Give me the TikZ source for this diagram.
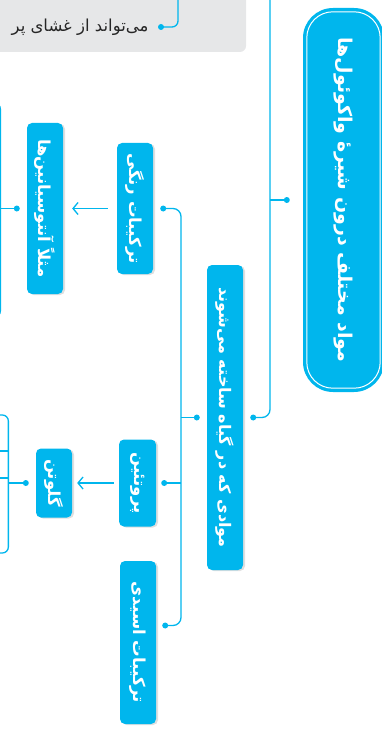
\documentclass[tikz,border=0pt]{standalone}
\usepackage{fontspec}
\usepackage{graphicx}
\usetikzlibrary{positioning, shadows, arrows.meta}
\TeXXeTstate=1
\newfontfamily\fafont[Script=Arabic]{DejaVu Sans}
\definecolor{mapblue}{RGB}{0,182,237}
\definecolor{notegray}{RGB}{230,231,232}
\newcommand{\vtext}[2]{\rotatebox{-90}{\fontsize{#1}{#1}\selectfont\fafont\bfseries #2}}

\begin{document}
\begin{tikzpicture}[x=1pt, y=-1pt,
    box/.style={fill=mapblue, rounded corners=5pt, text=white, inner sep=0pt,
                drop shadow={shadow xshift=2pt, shadow yshift=-1pt, opacity=0.25}},
    link/.style={mapblue, line width=1.3pt},
    arr/.style={link, -{Straight Barb[length=5pt, width=12pt]}}]
    \useasboundingbox (0,0) rectangle (382,730);
    \clip (0,0) rectangle (382,730);

    % note cut off at the top
    \fill[notegray, rounded corners=6pt] (-20,-20) rectangle (246,52);
    \node[anchor=east, text=black!85, font=\fafont\fontsize{16.5}{18}\selectfont] (note) at (152,27)
        {\beginR می‌تواند از غشای پر\endR};
    \coordinate (notetop) at (178,-5);
    \draw[link, rounded corners=6pt] (notetop) |- ([xshift=9pt]note.east);
    \fill[mapblue] ([xshift=9pt]note.east) circle (3pt);

    % main pill
    \node[fill=mapblue, rounded corners=30pt, text=white, inner sep=0pt,
          minimum width=81pt, minimum height=384pt] (main) at (343.5,200)
        {\vtext{19}{\beginR مواد مختلف درون شیرهٔ واکوئول‌ها\endR}};
    \draw[white, line width=1pt, rounded corners=26pt]
        ([shift={(4,4)}]main.north west) rectangle ([shift={(-4,-4)}]main.south east);

    % second level
    \node[box, minimum width=36pt, minimum height=305pt] (made) at (225,417.5)
        {\vtext{16}{\beginR موادی که در گیاه ساخته می‌شوند\endR}};
    \node[box, minimum width=36pt, minimum height=131pt] (pigment) at (135,208.5)
        {\vtext{16.5}{\beginR ترکیبات رنگی\endR}};
    \node[box, minimum width=37pt, minimum height=87pt] (protein) at (137.5,483)
        {\vtext{16.5}{\beginR پروتئین\endR}};
    \node[box, minimum width=36pt, minimum height=163pt] (acid) at (138,642.5)
        {\vtext{16.5}{\beginR ترکیبات اسیدی\endR}};
    \node[box, minimum width=36pt, minimum height=171pt] (antho) at (45,208.5)
        {\vtext{16.5}{\beginR مثلاً آنتوسیانین‌ها\endR}};
    \node[box, minimum width=36pt, minimum height=69pt] (gluten) at (54,483)
        {\vtext{16.5}{\beginR گلوتن\endR}};

    % boxes cut off at the left edge
    \node[draw=mapblue, line width=1.3pt, rounded corners=6pt, anchor=east,
          minimum width=100pt, minimum height=214pt] (leftA) at (1,210) {};
    \node[draw=mapblue, line width=1.3pt, rounded corners=6pt, anchor=east,
          minimum width=100pt, minimum height=138pt] (leftB) at (9,484) {};
    \draw[link] (-5,451) -- (leftB.east |- 0,451);
    \draw[link] (-5,478) -- (leftB.east |- 0,478);

    % connectors
    \coordinate (trunktop) at (270,-5);
    \coordinate (trunk) at (270,200);
    \coordinate (bus) at (181,417.5);
    \draw[link] ([xshift=-16pt]main.west) -- (trunk);
    \fill[mapblue] ([xshift=-16pt]main.west) circle (3pt);
    \draw[link, rounded corners=8pt] (trunktop) |- ([xshift=10pt]made.east);
    \fill[mapblue] ([xshift=10pt]made.east) circle (3pt);

    \draw[link] ([xshift=-10pt]made.west) -- (bus);
    \fill[mapblue] ([xshift=-10pt]made.west) circle (3pt);
    \draw[link, rounded corners=8pt] ([xshift=10pt]pigment.east) -| (bus) |- ([shift={(9,-17)}]acid.east);
    \fill[mapblue] ([xshift=10pt]pigment.east) circle (3pt);
    \fill[mapblue] ([shift={(9,-17)}]acid.east) circle (3pt);
    \draw[link] ([xshift=8pt]protein.east) -- (bus |- protein.east);
    \fill[mapblue] ([xshift=8pt]protein.east) circle (3pt);

    \draw[arr] ([xshift=-9pt]pigment.west) -- ([xshift=9pt]antho.east);
    \draw[arr] ([xshift=-5pt]protein.west) -- ([xshift=5pt]gluten.east);

    \draw[link] ([xshift=-10pt]antho.west) -- (leftA.east |- antho.west);
    \fill[mapblue] ([xshift=-10pt]antho.west) circle (3pt);
    \draw[link] ([xshift=-10pt]gluten.west) -- (leftB.east |- gluten.west);
    \fill[mapblue] ([xshift=-10pt]gluten.west) circle (3pt);
\end{tikzpicture}
\end{document}
